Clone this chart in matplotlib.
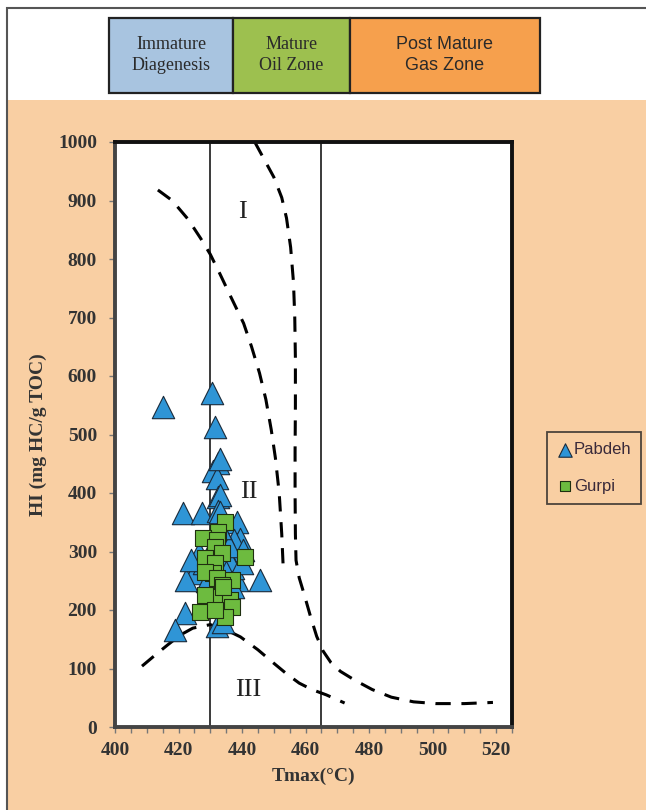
import matplotlib.pyplot as plt
from matplotlib.patches import Rectangle

# Pabdeh samples (Tmax, HI)
pabdeh_tmax = [415, 430.5, 431.5, 432.5, 431, 432, 433, 432.5, 433, 421.5,
               427.5, 432.5, 433, 438.5, 439.5, 437.5, 440.3, 426.5, 435, 425,
               445.5, 422.5, 438.5, 437, 422, 419, 432, 434, 429, 436,
               434, 430, 428, 440, 436, 431, 437, 433, 435, 424]
pabdeh_hi = [547, 571, 513, 452, 437, 426, 458, 393, 396, 366,
             366, 370, 367, 350, 322, 320, 302, 297, 297, 263,
             251, 251, 251, 272, 195, 165, 172, 180, 250, 285,
             330, 300, 280, 280, 310, 230, 240, 340, 265, 285]

# Gurpi samples (Tmax, HI)
gurpi_tmax = [434.6, 432.4, 427.7, 432, 431.4, 433.6, 428.3, 440.9, 431.4, 430.8,
              428.3, 436.8, 432, 433.6, 433, 428.3, 436.2, 436.8, 426.7, 434.6,
              431.4, 434]
gurpi_hi = [351, 333, 323, 320, 308, 297, 289, 291, 280, 263,
            265, 251, 255, 243, 222, 225, 217, 205, 196, 188,
            200, 239]

# kerogen type boundary curves
type1_tmax = [444, 447, 450, 452.5, 454, 455.3, 456.2, 456.6, 456.8, 456.8,
              456.7, 456.7, 456.8, 457, 458, 459.5, 461.5, 463.5, 465.5, 468,
              471, 475.5, 481, 487, 494, 501, 510, 519]
type1_hi = [1000, 970, 940, 905, 870, 820, 760, 700, 630, 550,
            470, 400, 330, 285, 255, 228, 190, 155, 130, 110,
            95, 80, 64, 51, 43, 40, 40, 42]

type2_tmax = [413.5, 418, 423, 427, 430, 433, 436.5, 440.5, 443, 445.5,
              447.5, 449.2, 450.5, 451.7, 452.5, 453]
type2_hi = [918, 900, 868, 835, 808, 775, 735, 690, 650, 605,
            560, 508, 460, 400, 330, 268]

type3_tmax = [408.5, 412, 416.5, 420.5, 424.5, 430, 435, 439.5, 445, 450,
              454, 458, 462, 466.5, 472.3]
type3_hi = [104, 120, 140, 157, 169, 175, 166, 154, 132, 109,
            91, 75, 64, 55, 41]

# maturity limits
limits = [430, 465]

peach = '#F9CFA3'
serif = 'Liberation Serif'

fig = plt.figure(figsize=(6.46, 8.10), dpi=100)

# background panels
fig.patches.append(Rectangle((0.012, 0), 1.0, 0.8765, transform=fig.transFigure,
                             facecolor=peach, edgecolor='none', zorder=0))
fig.patches.append(Rectangle((0.011, -0.01), 1.0, 1 - 8 / 810 + 0.01,
                             transform=fig.transFigure, facecolor='none',
                             edgecolor='#555555', lw=1.5, zorder=1))

# maturity boxes on top
boxes = [(109, 233, '#A8C4E0', 'Immature\nDiagenesis', serif),
         (233, 350, '#9DC04F', 'Mature\nOil Zone', serif),
         (350, 540, '#F6A04D', 'Post Mature\nGas Zone', 'Liberation Sans')]
for x0, x1, col, txt, fam in boxes:
    fig.patches.append(Rectangle((x0 / 646, 1 - 93 / 810), (x1 - x0) / 646, 75 / 810,
                                 transform=fig.transFigure, facecolor=col,
                                 edgecolor='#222222', lw=1.6, zorder=2))
    fig.text((x0 + x1) / 2 / 646, 1 - 55 / 810, txt, ha='center', va='center',
             fontsize=13, family=fam, color='#2a2a2a', linespacing=1.3, zorder=3)

ax = fig.add_axes([115 / 646, 1 - 727 / 810, 397 / 646, 585 / 810])
ax.set_zorder(5)
ax.set_facecolor('white')

for x in limits:
    ax.axvline(x, color='#3a3a3a', lw=1.4, zorder=1)

dash = (0, (5, 3.5))
for xs, ys in [(type1_tmax, type1_hi), (type2_tmax, type2_hi), (type3_tmax, type3_hi)]:
    ax.plot(xs, ys, color='black', lw=2.2, linestyle=dash, zorder=2)

ax.text(440, 880, 'I', fontsize=19, family=serif, ha='center', va='center', color='#222222')
ax.text(442, 402, 'II', fontsize=19, family=serif, ha='center', va='center', color='#222222')
ax.text(442, 63, 'III', fontsize=19, family=serif, ha='center', va='center', color='#222222')

ax.scatter(pabdeh_tmax, pabdeh_hi, marker='^', s=260, color='#2F95D6',
           edgecolor='#1a2a3a', lw=0.8, zorder=3, label='Pabdeh')
ax.scatter(gurpi_tmax, gurpi_hi, marker='s', s=140, color='#6DBB3F',
           edgecolor='#1f2f10', lw=0.8, zorder=4, label='Gurpi')

ax.set_xlim(400, 525)
ax.set_ylim(0, 1000)
ax.set_xticks(range(400, 521, 20))
ax.set_xticks(range(400, 526, 5), minor=True)
ax.set_yticks(range(0, 1001, 100))
ax.tick_params(axis='both', which='both', direction='out', color='#777777',
               length=4, width=1)
ax.tick_params(axis='y', pad=9)
ax.tick_params(axis='x', pad=7)
for lab in ax.get_xticklabels() + ax.get_yticklabels():
    lab.set_family(serif)
    lab.set_fontweight('bold')
    lab.set_fontsize(14)
    lab.set_color('#333333')

for sp in ax.spines.values():
    sp.set_linewidth(2.8)
    sp.set_color('#111111')
ax.spines['left'].set_color('#444444')
ax.spines['bottom'].set_color('#444444')

ax.set_xlabel('Tmax(°C)', family=serif, fontweight='bold', fontsize=14, color='#333333',
              labelpad=6)
ax.set_ylabel('HI (mg HC/g TOC)', family=serif, fontweight='bold', fontsize=14,
              color='#333333', labelpad=8)

leg = fig.legend(loc='upper left', bbox_to_anchor=(547 / 646, 1 - 432 / 810),
                 frameon=True, fancybox=False, facecolor=peach, edgecolor='#222222',
                 handletextpad=0.0, handlelength=1.0, labelspacing=1.3,
                 borderpad=0.6, borderaxespad=0, markerscale=0.6,
                 prop={'family': 'Liberation Sans', 'size': 12})
leg.set_zorder(6)
leg.get_frame().set_linewidth(1.3)
for t in leg.get_texts():
    t.set_color('#3a2a3a')

plt.savefig('out.png', dpi=100)
